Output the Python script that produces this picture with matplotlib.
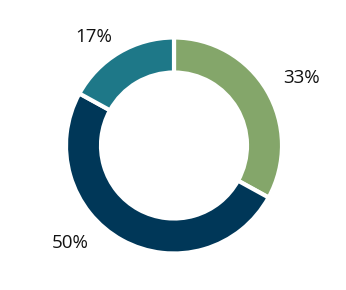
import matplotlib
matplotlib.use("Agg")
from matplotlib import pyplot as plt

# slice data, clockwise from 12 o'clock
labels = ["33%", "50%", "17%"]
shares = [33, 50, 17]
colors = ["#84a66a", "#003758", "#1e7888"]

# label placement in pixels (from top-left), picked by eye
label_xy = [(302, 78), (70, 243), (94, 37)]

W, H = 346, 290
fig = plt.figure(figsize=(W / 100, H / 100), dpi=100)
ax = fig.add_axes([0, 0, 1, 1])

wedges, _ = ax.pie(shares, colors=colors, startangle=90, counterclock=False,
                   center=(174, H - 145.5), radius=108,
                   wedgeprops=dict(width=35, edgecolor="white", linewidth=3))

for lab, (x, y) in zip(labels, label_xy):
    ax.text(x, H - y, lab, ha="center", va="center", fontsize=13.5,
            family=["Open Sans", "DejaVu Sans"], color="#111111")

ax.set_xlim(0, W)
ax.set_ylim(0, H)
ax.set_aspect("equal")
ax.axis("off")

fig.savefig("out.png", dpi=100, facecolor="white")
